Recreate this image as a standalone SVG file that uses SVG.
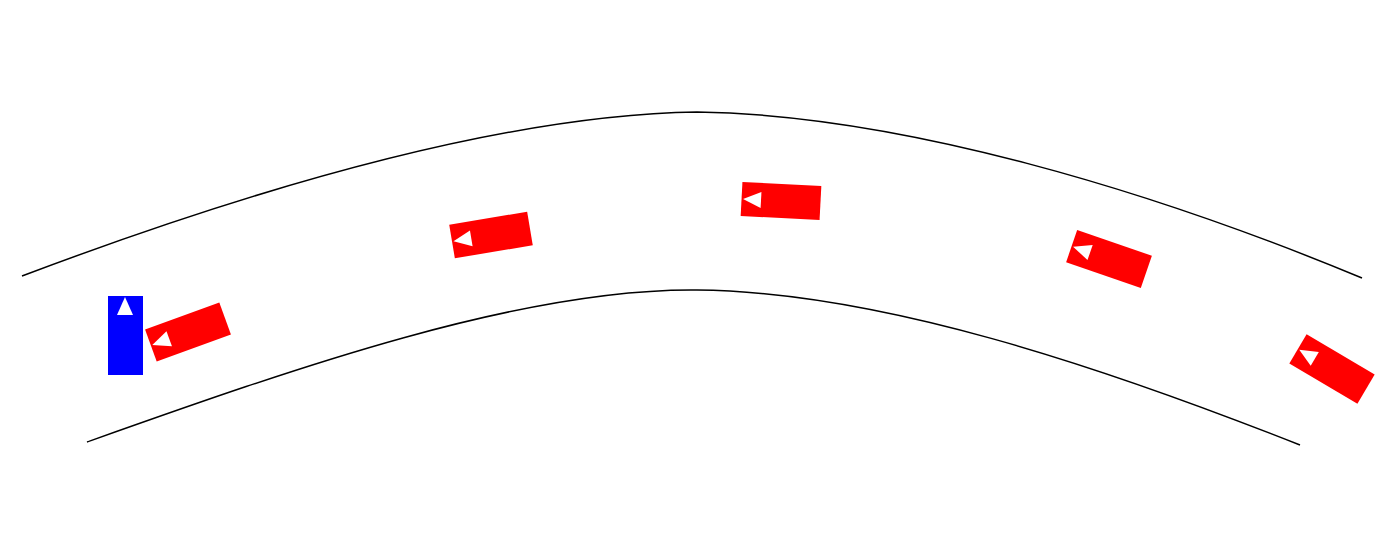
<svg xmlns="http://www.w3.org/2000/svg" width="1383" height="558" viewBox="0 0 1383 558">
<style>
.road{fill:none;stroke:#000;stroke-width:1.5}
.red{fill:#ff0000}
.blue{fill:#0000ff}
.tri{fill:#fff}
</style>
<defs>
<g id="redcar"><rect class="red" x="-39.5" y="-17" width="79" height="34"/><polygon class="tri" points="-38,0 -20,-8 -20,8"/></g>
</defs>
<rect width="1383" height="558" fill="#fff"/>
<g id="road">
<path class="road" d="M22,276 C250,190 500,115 697,112 C900,115 1150,190 1362,278"/>
<path class="road" d="M87,442 C290,370 520,288 697,290 C880,292 1100,366 1300,445"/>
</g>
<g id="ego"><rect class="blue" x="108" y="296" width="35" height="79"/><polygon class="tri" points="125,297 117,315 133,315"/></g>
<g id="car1"><use href="#redcar" transform="translate(188,332) rotate(-20)"/></g>
<g id="car2"><use href="#redcar" transform="translate(491,235) rotate(-9.5)"/></g>
<g id="car3"><use href="#redcar" transform="translate(781,201) rotate(3)"/></g>
<g id="car4"><use href="#redcar" transform="translate(1109,259) rotate(19)"/></g>
<g id="car5"><use href="#redcar" transform="translate(1332,369) rotate(30.5)"/></g>
</svg>
